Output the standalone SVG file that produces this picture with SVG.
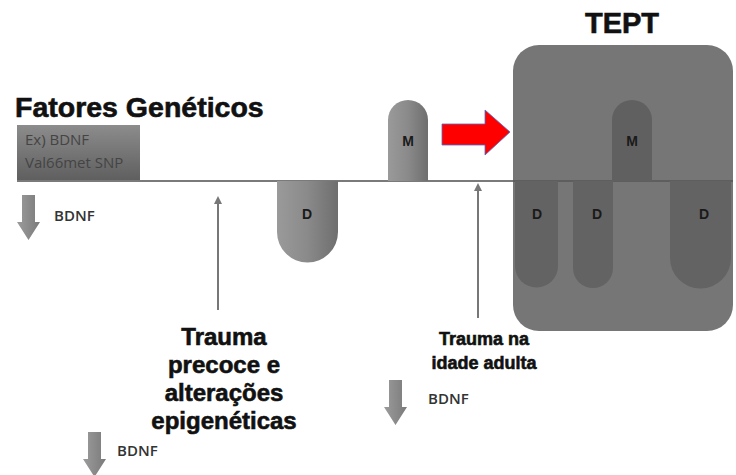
<svg xmlns="http://www.w3.org/2000/svg" width="736" height="475" viewBox="0 0 736 475">
<defs>
<linearGradient id="gh" x1="0" y1="0" x2="1" y2="0"><stop offset="0" stop-color="#9a9a9a"/><stop offset="0.5" stop-color="#8a8a8a"/><stop offset="1" stop-color="#6e6e6e"/></linearGradient>
<linearGradient id="gb" x1="0" y1="0" x2="0" y2="1"><stop offset="0" stop-color="#8c8c8c"/><stop offset="1" stop-color="#5f5f5f"/></linearGradient>
<linearGradient id="ga" x1="0" y1="0" x2="1" y2="0"><stop offset="0" stop-color="#9c9c9c"/><stop offset="1" stop-color="#7a7a7a"/></linearGradient>
<marker id="ah" markerWidth="8" markerHeight="8" refX="4" refY="4" orient="auto" markerUnits="userSpaceOnUse"><path d="M0,0 L8,4 L0,8 Z" fill="#777"/></marker>
<path id="dn" d="M5,0 H18 V27 H23 L11.5,45 L0,27 H5 Z"/>
</defs>
<style>
.t{font-family:"Liberation Sans",Arial,sans-serif;font-weight:bold;fill:#111;stroke:#111;stroke-width:0.6}
.s{font-family:"Open Sans","DejaVu Sans",sans-serif;fill:#444;font-size:15px}
.b{font-family:"Open Sans","DejaVu Sans",sans-serif;font-weight:600;fill:#333;font-size:15px}
.lt{font-family:"Liberation Sans",Arial,sans-serif;font-weight:bold;fill:#1a1a1a;font-size:14px;text-anchor:middle}
</style>
<rect width="736" height="475" fill="#fff"/>
<g id="tept">
<rect x="513" y="45" width="220" height="286" rx="26" fill="#767676"/>
<text class="t" x="622" y="33" font-size="29" text-anchor="middle">TEPT</text>
</g>
<g id="connectors">
<line x1="17" y1="181" x2="733" y2="181" stroke="#7a7a7a" stroke-width="2"/>
<line x1="513" y1="181" x2="733" y2="181" stroke="#5e5e5e" stroke-width="2"/>
<line x1="218" y1="310" x2="218" y2="200" stroke="#777" stroke-width="2" marker-end="url(#ah)"/>
<line x1="478" y1="318" x2="478" y2="187" stroke="#777" stroke-width="2" marker-end="url(#ah)"/>
<path d="M442,124 H485 V110 L510,132 L485,155 V145 H442 Z" fill="#f00" stroke="#4a6fd0" stroke-width="0.8"/>
</g>
<g id="fatores">
<text class="t" x="15" y="117" font-size="28.5">Fatores Genéticos</text>
<rect x="17" y="125" width="123" height="55" fill="url(#gb)"/>
<text class="s" x="25" y="145">Ex) BDNF</text>
<text class="s" x="25" y="168">Val66met SNP</text>
</g>
<g id="bdnf1"><use href="#dn" x="17" y="195" fill="url(#ga)"/><text class="b" x="54" y="221">BDNF</text></g>
<g id="d1"><path d="M277,181 H338 V232 A30.5,30.5 0 0 1 277,232 Z" fill="url(#gh)"/><text class="lt" x="307" y="219">D</text></g>
<g id="m1"><path d="M388,181 V120 A20,20 0 0 1 428,120 V181 Z" fill="url(#gh)"/><text class="lt" x="408" y="146">M</text></g>
<g id="m2"><path d="M612,181 V120 A20,20 0 0 1 652,120 V181 Z" fill="#606060"/><text class="lt" x="632" y="146">M</text></g>
<g id="d2"><path d="M515,181 H558 V266 A21.5,21.5 0 0 1 515,266 Z" fill="#636363"/><text class="lt" x="537" y="219">D</text></g>
<g id="d3"><path d="M573,181 H613 V268 A20,20 0 0 1 573,268 Z" fill="#636363"/><text class="lt" x="597" y="219">D</text></g>
<g id="d4"><path d="M670,181 H731 V258 A30.5,30.5 0 0 1 670,258 Z" fill="#636363"/><text class="lt" x="704" y="219">D</text></g>
<g id="trauma1">
<text class="t" font-size="24" text-anchor="middle"><tspan x="224" y="345">Trauma</tspan><tspan x="224" y="373">precoce e</tspan><tspan x="224" y="401">alterações</tspan><tspan x="224" y="429">epigenéticas</tspan></text>
</g>
<g id="trauma2">
<text class="t" font-size="18" text-anchor="middle" stroke-width="0.4"><tspan x="484" y="345">Trauma na</tspan><tspan x="484" y="369">idade adulta</tspan></text>
</g>
<g id="bdnf2"><use href="#dn" x="384" y="380" fill="url(#ga)"/><text class="b" x="428" y="404">BDNF</text></g>
<g id="bdnf3"><use href="#dn" x="83" y="432" fill="url(#ga)"/><text class="b" x="117" y="456">BDNF</text></g>
</svg>
